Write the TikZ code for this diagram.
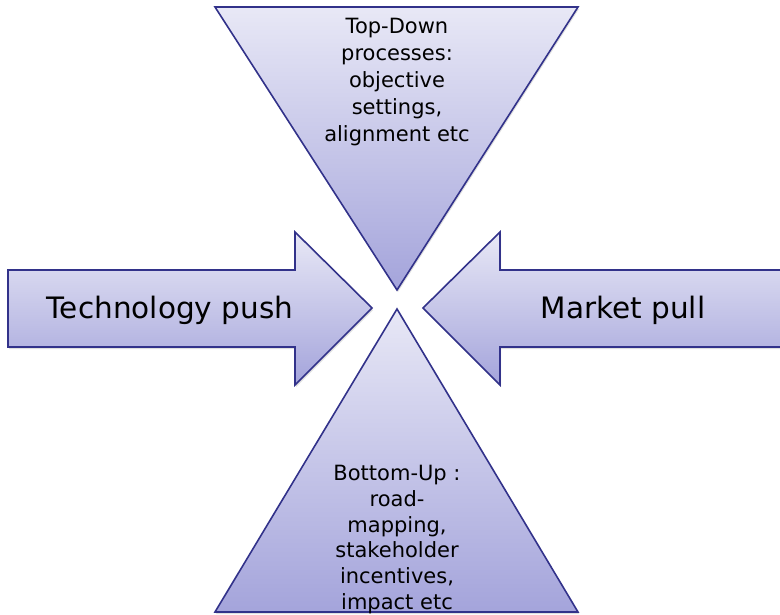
\documentclass[tikz,border=0pt]{standalone}
\usepackage{fontspec}
\setmainfont{DejaVu Sans}
\usetikzlibrary{shadows}
\definecolor{edge}{RGB}{50,50,138}
\definecolor{lite}{RGB}{232,232,246}
\definecolor{deep}{RGB}{164,164,219}
\tikzset{
  shape fill/.style={draw=edge, line width=1.6pt, line join=miter,
    top color=lite, bottom color=deep,
    drop shadow={opacity=0.25, shadow xshift=1pt, shadow yshift=-2pt}},
  big label/.style={font=\fontsize{29.5}{31}\selectfont, inner sep=0pt},
  small label/.style={align=center, inner sep=0pt}
}
\begin{document}
\begin{tikzpicture}[x=1pt,y=-1pt]
\useasboundingbox (0,0) rectangle (780,614);
% top-down triangle
\path[shape fill] (215,7) -- (578,7) -- (397,290) -- cycle;
% bottom-up triangle
\path[shape fill] (397,309) -- (578,612) -- (215,612) -- cycle;
% technology push arrow
\path[shape fill] (8,270) -- (295,270) -- (295,232) -- (372,308) -- (295,385) -- (295,347) -- (8,347) -- cycle;
% market pull arrow
\path[shape fill] (784,270) -- (500,270) -- (500,232) -- (423,308) -- (500,385) -- (500,347) -- (784,347) -- cycle;
% labels
\node[big label] (push) at (170,310) {Technology push};
\node[big label] (pull) at (623,310) {Market pull};
\node[small label, font=\fontsize{21}{27}\selectfont, anchor=north] (topdown) at (397,18)
  {Top-Down\\processes:\\objective\\settings,\\alignment etc};
\node[small label, font=\fontsize{21}{25.8}\selectfont, anchor=north] (bottomup) at (397,465)
  {Bottom-Up :\\road-\\mapping,\\stakeholder\\incentives,\\impact etc};
\end{tikzpicture}
\end{document}
